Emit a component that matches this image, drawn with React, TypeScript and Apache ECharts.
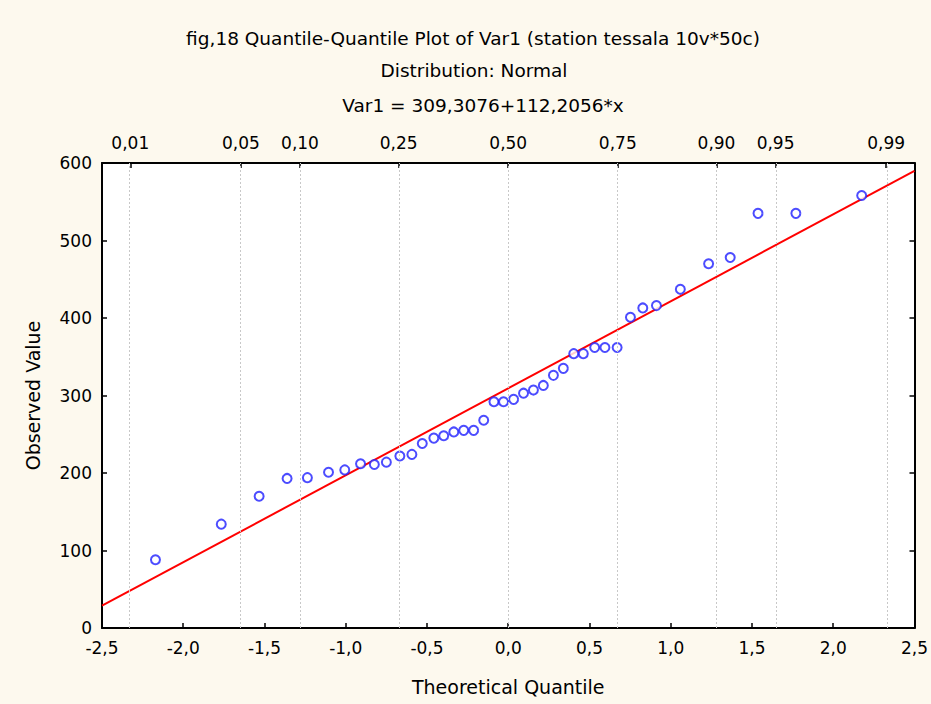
import React, { useEffect, useRef } from "react";
import * as echarts from "echarts";

// Normal-score (theoretical quantile) of each observation, ascending
const theoreticalQ: number[] = [
  -2.171, -1.766, -1.533, -1.361, -1.236, -1.106, -1.006, -0.909, -0.824, -0.75,
  -0.667, -0.593, -0.529, -0.458, -0.397, -0.335, -0.274, -0.213, -0.151, -0.088,
  -0.029, 0.033, 0.094, 0.155, 0.216, 0.278, 0.339, 0.403, 0.462, 0.532,
  0.595, 0.67, 0.752, 0.828, 0.912, 1.059, 1.233, 1.366, 1.537, 1.77, 2.175,
];

// Observed values of Var1, sorted
const observed: number[] = [
  88, 134, 170, 193, 194, 201, 204, 212, 211, 214,
  222, 224, 238, 245, 248, 253, 255, 255, 268, 292,
  292, 295, 303, 307, 313, 326, 335, 354, 354, 362,
  362, 362, 401, 413, 416, 437, 470, 478, 535, 535, 558,
];

// Fitted line: Var1 = 309,3076 + 112,2056 * x
const intercept = 309.3076;
const slope = 112.2056;

// Probability scale on the top axis and the matching normal quantiles
const probLabels: string[] = ["0,01", "0,05", "0,10", "0,25", "0,50", "0,75", "0,90", "0,95", "0,99"];
const probZ: number[] = [-2.326, -1.645, -1.2816, -0.674, 0, 0.674, 1.2816, 1.645, 2.326];

const xMin = -2.5;
const xMax = 2.5;

const FONT = "'DejaVu Sans', Verdana, sans-serif";

export default function App() {
  const ref = useRef<HTMLDivElement>(null);

  useEffect(() => {
    if (!ref.current) return;
    const chart = echarts.init(ref.current, undefined, { renderer: "svg" });

    const axisLine = { show: true, onZero: false, lineStyle: { color: "#000", width: 2 } };
    const labelStyle = { color: "#000", fontFamily: FONT, fontSize: 17 };
    const nameStyle = { color: "#000", fontFamily: FONT, fontSize: 19 };
    const titleText = (text: string, x: number, y: number) => ({
      type: "text",
      x,
      y,
      style: {
        text,
        font: `18.5px ${FONT}`,
        fill: "#000",
        textAlign: "center",
        textVerticalAlign: "middle",
      },
    });

    chart.setOption({
      animation: false,
      backgroundColor: "#fdf9ee",
      textStyle: { fontFamily: FONT },
      graphic: [
        titleText("fig,18 Quantile-Quantile Plot of Var1 (station tessala 10v*50c)", 473, 38),
        titleText("Distribution: Normal", 474, 70),
        titleText("Var1 = 309,3076+112,2056*x", 483, 105),
      ],
      grid: {
        left: 102,
        right: 13,
        top: 163,
        bottom: 76,
        show: true,
        backgroundColor: "#ffffff",
        borderWidth: 0,
      },
      xAxis: [
        {
          type: "value",
          position: "bottom",
          min: xMin,
          max: xMax,
          interval: 0.5,
          axisLine,
          axisTick: { show: true, inside: true, length: 5, lineStyle: { color: "#000", width: 1.5 } },
          axisLabel: {
            ...labelStyle,
            margin: 11,
            showMinLabel: true,
            showMaxLabel: true,
            formatter: (v: number) => v.toFixed(1).replace(".", ","),
          },
          splitLine: { show: false },
          name: "Theoretical Quantile",
          nameLocation: "middle",
          nameGap: 49,
          nameTextStyle: { ...nameStyle },
        },
        {
          type: "value",
          position: "top",
          min: xMin,
          max: xMax,
          axisLine,
          axisTick: {
            show: true,
            inside: true,
            length: 5,
            customValues: probZ,
            lineStyle: { color: "#000", width: 1.5 },
          },
          axisLabel: {
            ...labelStyle,
            margin: 12,
            customValues: probZ,
            formatter: (v: number) => {
              let best = 0;
              for (let i = 1; i < probZ.length; i++) {
                if (Math.abs(probZ[i] - v) < Math.abs(probZ[best] - v)) best = i;
              }
              return probLabels[best];
            },
          },
          splitLine: { show: false },
        },
      ],
      yAxis: [
        {
          type: "value",
          position: "left",
          min: 0,
          max: 600,
          interval: 100,
          axisLine,
          axisTick: { show: true, inside: true, length: 5, lineStyle: { color: "#000", width: 1.5 } },
          axisLabel: { ...labelStyle, margin: 10 },
          splitLine: { show: false },
          name: "Observed Value",
          nameLocation: "middle",
          nameGap: 60,
          nameRotate: 90,
          nameTextStyle: { ...nameStyle },
        },
        {
          type: "value",
          position: "right",
          min: 0,
          max: 600,
          interval: 100,
          axisLine,
          axisTick: { show: true, inside: true, length: 5, lineStyle: { color: "#000", width: 1.5 } },
          axisLabel: { show: false },
          splitLine: { show: false },
        },
      ],
      series: [
        {
          type: "line",
          xAxisIndex: 0,
          yAxisIndex: 0,
          data: [],
          silent: true,
          markLine: {
            silent: true,
            symbol: "none",
            label: { show: false },
            lineStyle: { color: "#c8c8c8", type: [2, 2], width: 1 },
            data: probZ.map((z) => ({ xAxis: z })),
          },
        },
        {
          type: "line",
          xAxisIndex: 0,
          yAxisIndex: 0,
          data: [
            [xMin, intercept + slope * xMin],
            [xMax, intercept + slope * xMax],
          ],
          symbol: "none",
          lineStyle: { color: "#ff0000", width: 2 },
          z: 3,
        },
        {
          type: "scatter",
          xAxisIndex: 0,
          yAxisIndex: 0,
          data: theoreticalQ.map((q, i) => [q, observed[i]]),
          symbol: "emptyCircle",
          symbolSize: 9,
          itemStyle: { color: "#1f1fff", borderWidth: 1.3 },
          z: 4,
        },
      ],
    });

    return () => chart.dispose();
  }, []);

  return (
    <div
      ref={ref}
      style={{ position: "fixed", left: 0, top: 0, width: 931, height: 704 }}
    />
  );
}
